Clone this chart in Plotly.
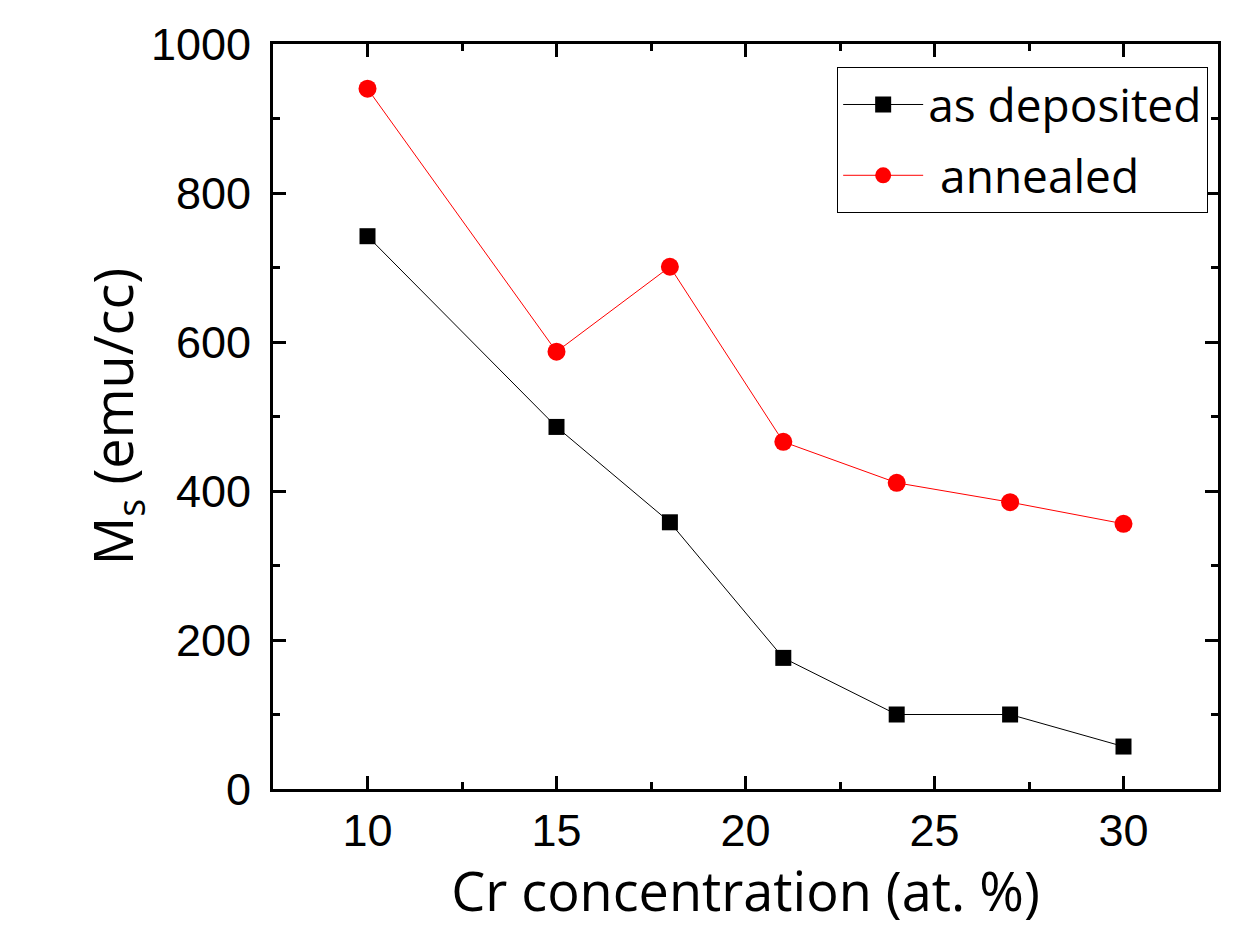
import plotly.graph_objects as go

cr = [10, 15, 18, 21, 24, 27, 30]
as_deposited = [742, 486, 358, 176, 100, 100, 57]
annealed = [940, 587, 701, 466, 411, 385, 356]

x_ticks = [10, 15, 20, 25, 30]
y_ticks = [0, 200, 400, 600, 800, 1000]

fig = go.Figure()
fig.add_trace(go.Scatter(x=cr, y=as_deposited, mode="lines+markers", name="as deposited",
                         legendgroup="a",
                         line=dict(color="black", width=1),
                         marker=dict(symbol="square", size=16, color="black")))
fig.add_trace(go.Scatter(x=cr, y=annealed, mode="lines+markers", name=" annealed",
                         legendgroup="b",
                         line=dict(color="red", width=1),
                         marker=dict(symbol="circle", size=18, color="red")))

axis_common = dict(showline=True, linecolor="black", linewidth=3, mirror="ticks",
                   ticks="inside", ticklen=13, tickwidth=3, tickcolor="black",
                   showgrid=False, zeroline=False,
                   tickfont=dict(family="Liberation Sans, Arial", size=45, color="black"))

fig.update_xaxes(range=[7.5, 32.5], tickvals=x_ticks, ticklabelstandoff=0,
                 minor=dict(ticks="inside", ticklen=7, tickwidth=3, tickcolor="black", dtick=2.5, tick0=7.5),
                 title=dict(text="Cr concentration (at. %)", font=dict(family="Open Sans", size=54, color="black"), standoff=8),
                 **axis_common)
fig.update_yaxes(range=[0, 1000], tickvals=y_ticks, ticklabelstandoff=10,
                 minor=dict(ticks="inside", ticklen=7, tickwidth=3, tickcolor="black", dtick=100, tick0=0),
                 title=dict(text="M<sub>s</sub> (emu/cc)", font=dict(family="Open Sans", size=54, color="black"), standoff=0),
                 **axis_common)

fig.update_layout(
    width=1244, height=927,
    margin=dict(l=273, r=26, t=44, b=138),
    plot_bgcolor="white", paper_bgcolor="white",
    legend=dict(x=0.597, y=0.969, xanchor="left", yanchor="top",
                bordercolor="black", borderwidth=1, bgcolor="white",
                font=dict(family="Open Sans", size=46, color="black"),
                itemwidth=80, tracegroupgap=8),
)

fig.write_html("out.html")
